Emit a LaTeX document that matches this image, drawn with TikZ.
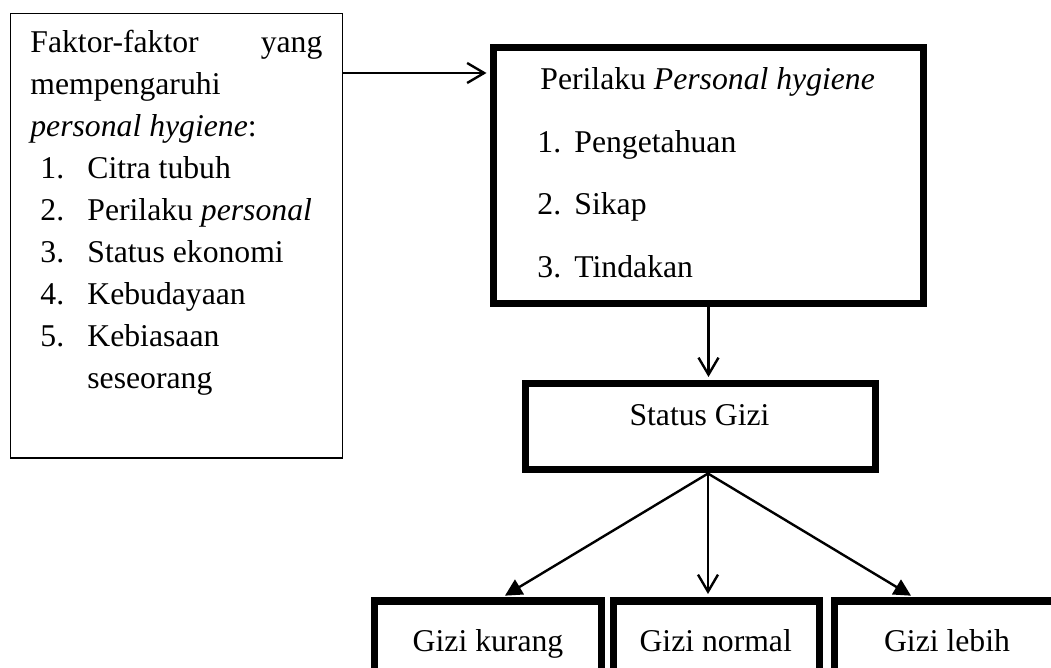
\documentclass[tikz,border=0pt]{standalone}
\usepackage{fontspec}
\setmainfont{Liberation Serif}
\usetikzlibrary{arrows.meta}
\begin{document}
\begin{tikzpicture}[x=0.5pt,y=-0.5pt,
  txt/.style={font=\fontsize{15.85}{19}\selectfont, inner sep=0pt, anchor=base west},
  ctxt/.style={txt, anchor=base},
  thinbox/.style={draw, line width=0.6pt, inner sep=0pt},
  thickbox/.style={draw, line width=3.5pt, inner sep=0pt},
  conn/.style={line width=1.2pt},
  openarr/.style={conn, shorten >=1.75pt, -{Straight Barb[length=8.5pt,width=10pt]}},
  fillarr/.style={conn, shorten >=1.75pt, -{Triangle[length=8.5pt,width=8.5pt]}}]
\useasboundingbox (0,0) rectangle (1051,668);
\clip (0,0) rectangle (1051,668);
% boxes
\node[thinbox, minimum width=166pt, minimum height=222.25pt] (fa) at (176.5,235.75) {};
\node[thickbox, minimum width=215pt, minimum height=128pt] (pb) at (708.5,175.5) {};
\node[thickbox, minimum width=175pt, minimum height=43pt] (sg) at (700.5,427) {};
\node[thickbox, minimum width=113.25pt, minimum height=69.5pt] (gk) at (487.75,670.5) {};
\node[thickbox, minimum width=102.75pt, minimum height=69.5pt] (gn) at (716.25,670.5) {};
\node[thickbox, minimum width=112.5pt, minimum height=69.5pt] (gl) at (947,670.5) {};
% left box text
\node[txt] (t1) at (30,53) {\makebox[146pt][l]{Faktor-faktor\hfill yang}};
\node[txt] (t2) at (30,94.9) {mempengaruhi};
\node[txt] (t3) at (30,136.8) {\textit{personal hygiene}:};
\node[txt] (n1) at (40,178.7) {1.};
\node[txt] (i1) at (87,178.7) {Citra tubuh};
\node[txt] (n2) at (40,220.6) {2.};
\node[txt] (i2) at (87,220.6) {Perilaku \textit{personal}};
\node[txt] (n3) at (40,262.5) {3.};
\node[txt] (i3) at (87,262.5) {Status ekonomi};
\node[txt] (n4) at (40,304.4) {4.};
\node[txt] (i4) at (87,304.4) {Kebudayaan};
\node[txt] (n5) at (40,346.3) {5.};
\node[txt] (i5) at (87,346.3) {Kebiasaan};
\node[txt] (i6) at (87,388.2) {seseorang};
% big box text
\node[txt] (p0) at (540,90) {Perilaku \textit{Personal hygiene}};
\node[txt] (m1) at (537,152.5) {1.};
\node[txt] (j1) at (574,152.5) {Pengetahuan};
\node[txt] (m2) at (537,215) {2.};
\node[txt] (j2) at (574,215) {Sikap};
\node[txt] (m3) at (537,277.5) {3.};
\node[txt] (j3) at (574,277.5) {Tindakan};
% other texts
\node[ctxt] (sgt) at (699.5,426) {Status Gizi};
\node[ctxt] (gkt) at (488,651) {Gizi kurang};
\node[ctxt] (gnt) at (715.7,651) {Gizi normal};
\node[ctxt] (glt) at (947,651) {Gizi lebih};
% connectors
\coordinate (ain) at ([yshift=81.375pt]fa.east);
\draw[openarr] (ain) -- (ain -| pb.west);
\draw[openarr] (pb.south) -- (pb.south |- sg.north);
\coordinate (sgo) at ([xshift=3.75pt]sg.south);
\draw[fillarr] (sgo) -- ([xshift=7.1pt]gk.north);
\draw[openarr] (sgo) -- (sgo |- gn.north);
\draw[fillarr] (sgo) -- ([xshift=-16.5pt]gl.north);
\end{tikzpicture}
\end{document}
